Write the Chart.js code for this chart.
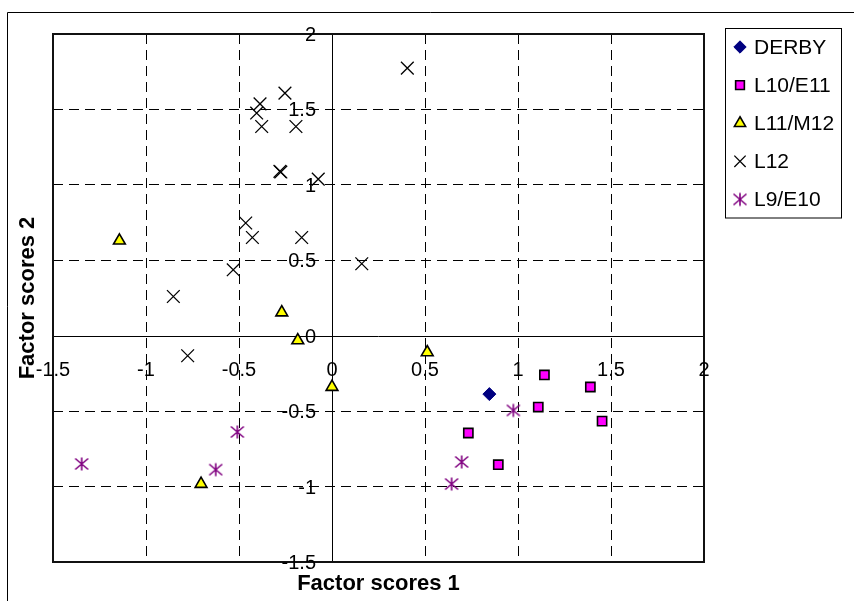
<!DOCTYPE html>
<html>
<head>
<meta charset="utf-8">
<script src="https://cdn.jsdelivr.net/npm/chart.js@4.4.0/dist/chart.umd.min.js"></script>
<style>
  html, body { margin: 0; padding: 0; background: #fff; }
  #wrap { width: 854px; height: 601px; }
</style>
</head>
<body>
<div id="wrap"><canvas id="chart" width="854" height="601"></canvas></div>
<script>
// Axis ticks
const xTicks = [-1.5, -1, -0.5, 0, 0.5, 1, 1.5, 2];
const yTicks = [-1.5, -1, -0.5, 0, 0.5, 1, 1.5, 2];

// Series values (factor scores 1 / 2)
const derbyX = [0.846];
const derbyY = [-0.387];

const l10X = [1.142, 1.389, 1.109, 1.452, 0.733, 0.894];
const l10Y = [-0.26, -0.34, -0.473, -0.566, -0.645, -0.855];

const l11X = [-1.143, -0.27, -0.184, 0.0, -0.704, 0.512];
const l11Y = [0.63, 0.154, -0.031, -0.34, -0.983, -0.11];

const l12X = [0.405, -0.253, -0.387, -0.405, -0.378, -0.194, -0.28, -0.275, -0.074, -0.464, -0.428, -0.163, 0.16, -0.531, -0.853, -0.776];
const l12Y = [1.774, 1.608, 1.537, 1.476, 1.387, 1.387, 1.089, 1.085, 1.038, 0.747, 0.651, 0.651, 0.477, 0.437, 0.26, -0.133];

const l9X = [-1.346, -0.625, -0.509, 0.975, 0.697, 0.643];
const l9Y = [-0.85, -0.888, -0.638, -0.495, -0.837, -0.983];

const FONT = "'Liberation Sans', Arial, sans-serif";

function pts(xs, ys) {
    return xs.map((x, i) => ({ x: x, y: ys[i] }));
}

// Excel style asterisk marker (vertical bar + X)
function makeAsterisk(color) {
    const c = document.createElement('canvas');
    c.width = 16; c.height = 16;
    const g = c.getContext('2d');
    g.strokeStyle = color;
    g.lineWidth = 1.6;
    g.beginPath();
    g.moveTo(8, 1.5); g.lineTo(8, 14.5);
    g.moveTo(1.5, 2.5); g.lineTo(14.5, 13.5);
    g.moveTo(1.5, 13.5); g.lineTo(14.5, 2.5);
    g.stroke();
    return c;
}
const asterisk = makeAsterisk('#800080');

const datasets = [
    { label: 'DERBY', data: pts(derbyX, derbyY), pointStyle: 'rectRot', pointRadius: 6.5,
      backgroundColor: '#000080', borderColor: '#000080', pointBorderWidth: 1 },
    { label: 'L10/E11', data: pts(l10X, l10Y), pointStyle: 'rect', pointRadius: 6.5,
      backgroundColor: '#FF00FF', borderColor: '#000000', pointBorderWidth: 1.6 },
    { label: 'L11/M12', data: pts(l11X, l11Y), pointStyle: 'triangle', pointRadius: 6.8,
      backgroundColor: '#FFFF00', borderColor: '#000000', pointBorderWidth: 1.6 },
    { label: 'L12', data: pts(l12X, l12Y), pointStyle: 'crossRot', pointRadius: 9,
      backgroundColor: '#000000', borderColor: '#000000', pointBorderWidth: 1.3 },
    { label: 'L9/E10', data: pts(l9X, l9Y), pointStyle: asterisk, pointRadius: 8,
      backgroundColor: '#800080', borderColor: '#800080', pointBorderWidth: 1.6 }
];

// Frame, zero axes and tick labels placed at the axis crossing (Excel style)
const axesPlugin = {
    id: 'excelAxes',
    beforeDatasetsDraw(chart) {
        const { ctx, chartArea: a, scales: { x, y } } = chart;
        const x0 = x.getPixelForValue(0);
        const y0 = y.getPixelForValue(0);
        ctx.save();
        ctx.strokeStyle = '#000';
        ctx.lineWidth = 1;
        ctx.beginPath();
        ctx.moveTo(a.left, Math.round(y0) + 0.5); ctx.lineTo(a.right, Math.round(y0) + 0.5);
        ctx.moveTo(Math.round(x0) + 0.5, a.top); ctx.lineTo(Math.round(x0) + 0.5, a.bottom);
        ctx.stroke();

        ctx.lineWidth = 2;
        ctx.strokeStyle = '#111';
        ctx.strokeRect(a.left, a.top, a.right - a.left, a.bottom - a.top);

        ctx.fillStyle = '#000';
        ctx.font = '20px ' + FONT;
        ctx.textAlign = 'center';
        ctx.textBaseline = 'alphabetic';
        xTicks.forEach(v => {
            ctx.fillText(String(v), x.getPixelForValue(v), y0 + 40);
        });
        ctx.textAlign = 'right';
        yTicks.forEach(v => {
            ctx.fillText(String(v), x0 - 16, y.getPixelForValue(v) + 7);
        });
        ctx.restore();
    },
    afterDraw(chart) {
        const { ctx, chartArea: a } = chart;
        ctx.save();
        // outer chart border
        ctx.strokeStyle = '#000';
        ctx.lineWidth = 1;
        ctx.beginPath();
        ctx.moveTo(7.5, 601); ctx.lineTo(7.5, 12.5); ctx.lineTo(854, 12.5);
        ctx.stroke();

        // axis titles
        ctx.fillStyle = '#000';
        ctx.font = 'bold 22px ' + FONT;
        ctx.textAlign = 'center';
        ctx.textBaseline = 'alphabetic';
        ctx.fillText('Factor scores 1', (a.left + a.right) / 2, 590);
        ctx.translate(34, (a.top + a.bottom) / 2);
        ctx.rotate(-Math.PI / 2);
        ctx.fillText('Factor scores 2', 0, 0);
        ctx.restore();

        // legend
        ctx.save();
        ctx.strokeStyle = '#000';
        ctx.lineWidth = 1;
        ctx.strokeRect(725.5, 28.5, 116, 189.5);
        ctx.font = '21px ' + FONT;
        ctx.textAlign = 'left';
        ctx.textBaseline = 'middle';
        chart.data.datasets.forEach((ds, i) => {
            const cy = 47 + i * 38.1;
            ctx.fillStyle = ds.backgroundColor;
            ctx.strokeStyle = ds.borderColor;
            ctx.lineWidth = ds.pointBorderWidth;
            Chart.helpers.drawPoint(ctx, {
                pointStyle: ds.pointStyle,
                radius: ds.label === 'L12' ? 8 : ds.pointRadius * 0.95,
                rotation: 0,
                borderWidth: ds.pointBorderWidth
            }, 740, cy);
            ctx.fillStyle = '#000';
            ctx.fillText(ds.label, 754, cy + 1);
        });
        ctx.restore();
    }
};

new Chart(document.getElementById('chart'), {
    type: 'scatter',
    data: { datasets: datasets },
    options: {
        responsive: false,
        animation: false,
        layout: { padding: { left: 53, top: 34, right: 150, bottom: 39 } },
        plugins: {
            legend: { display: false },
            tooltip: { enabled: false }
        },
        scales: {
            x: {
                type: 'linear', min: -1.5, max: 2,
                ticks: { display: false, stepSize: 0.5 },
                grid: {
                    drawTicks: false, lineWidth: 1,
                    color: c => (c.tick && (c.tick.value === 0 || c.tick.value === -1.5 || c.tick.value === 2)) ? 'rgba(0,0,0,0)' : '#000'
                },
                border: { display: false, dash: [10, 6] }
            },
            y: {
                type: 'linear', min: -1.5, max: 2,
                ticks: { display: false, stepSize: 0.5 },
                grid: {
                    drawTicks: false, lineWidth: 1,
                    color: c => (c.tick && (c.tick.value === 0 || c.tick.value === -1.5 || c.tick.value === 2)) ? 'rgba(0,0,0,0)' : '#000'
                },
                border: { display: false, dash: [10, 6] }
            }
        }
    },
    plugins: [axesPlugin]
});
</script>
</body>
</html>
